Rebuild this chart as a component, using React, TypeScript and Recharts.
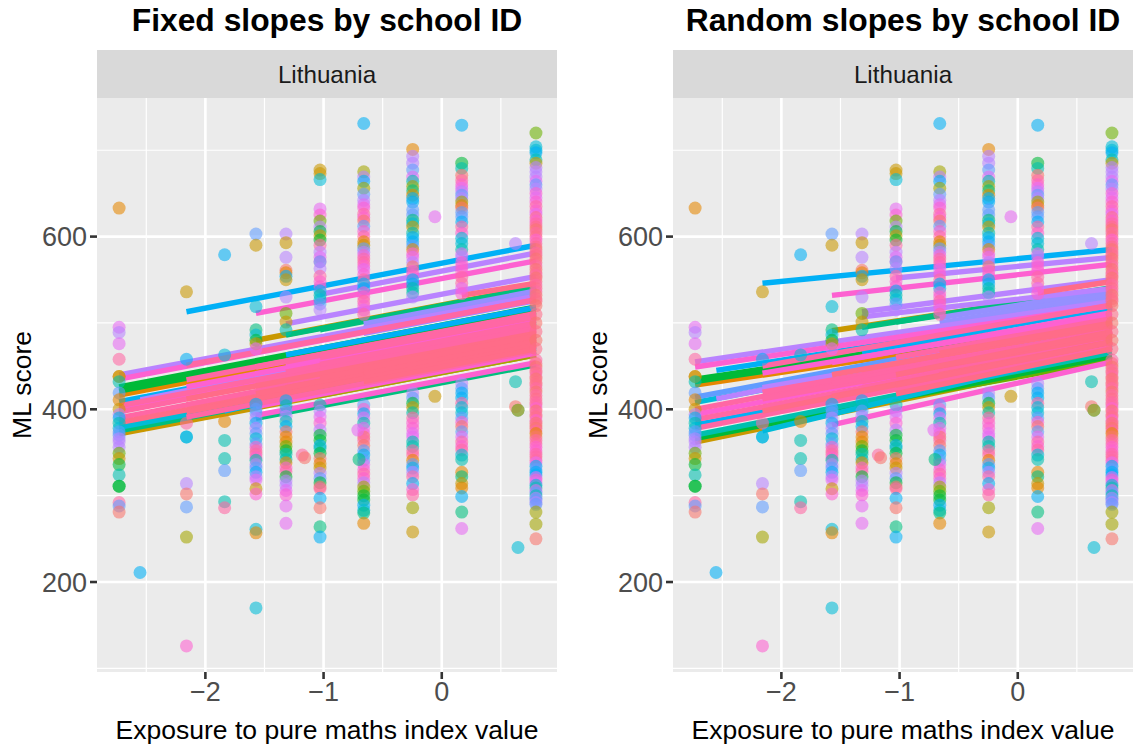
import React from "react";
import { ComposedChart, CartesianGrid, Line, Scatter, XAxis, YAxis, Label } from "recharts";

// ggplot hue palette, in school order
const PALETTE = ["#F8766D","#E58700","#C99800","#A3A500","#6BB100","#00BA38","#00BF7D","#00C0AF","#00BCD8","#00B0F6","#619CFF","#B983FF","#E76BF3","#FD61D1","#FF67A4","#FF6C88","#9590FF"];

const xMajor = [-2, -1, 0];
const xMinor = [-2.5, -1.5, -0.5, 0.5];
const yMajor = [200, 400, 600];
const yMinor = [100, 300, 500, 700];

// [score, school hue index] at each exposure value
const colA: [number, number][] = [[633,1],[495,12],[489,11],[476,12],[458,14],[438,1],[438,2],[432,7],[419,10],[411,1],[400,2],[394,11],[390,9],[384,7],[378,8],[374,10],[370,10],[366,11],[362,11],[356,11],[349,4],[343,2],[336,5],[324,7],[311,5],[311,5],[292,14],[288,10],[281,0]];
const colB: [number, number][] = [[211,9]];
const colC: [number, number][] = [[536,2],[458,9],[384,14],[368,9],[368,8],[314,11],[302,0],[287,10],[252,3],[126,13]];
const colD: [number, number][] = [[579,9],[463,8],[386,1],[364,7],[343,7],[329,10],[293,7],[286,14]];
const colE: [number, number][] = [[603,10],[590,2],[519,8],[492,6],[486,8],[480,5],[476,2],[470,12],[406,9],[400,10],[396,10],[390,11],[384,9],[378,11],[372,10],[366,8],[360,10],[356,13],[352,14],[348,14],[344,13],[341,7],[336,11],[332,10],[327,9],[322,11],[318,12],[308,2],[302,13],[261,8],[257,1],[170,8]];
const colF: [number, number][] = [[603,11],[593,2],[576,11],[561,0],[558,1],[554,9],[550,2],[530,11],[511,4],[501,2],[492,7],[410,9],[404,7],[398,10],[392,11],[386,7],[380,9],[374,0],[368,1],[362,1],[357,4],[352,5],[348,7],[342,7],[338,1],[332,13],[328,14],[322,5],[317,11],[312,11],[306,12],[301,13],[288,12],[268,12]];
const colG: [number, number][] = [[677,2],[673,2],[666,8],[632,12],[625,13],[618,4],[611,11],[606,5],[601,2],[596,5],[590,14],[582,11],[576,12],[571,13],[571,10],[563,11],[554,14],[548,13],[542,13],[537,9],[532,7],[527,8],[522,10],[515,11],[405,7],[398,11],[391,12],[384,13],[376,11],[370,5],[364,5],[358,9],[355,7],[349,5],[343,0],[337,1],[332,2],[326,11],[320,10],[315,5],[310,0],[308,14],[297,9],[286,0],[264,6],[252,9]];
const colH: [number, number][] = [[731,9],[675,3],[669,11],[664,9],[656,3],[649,10],[642,11],[637,12],[633,13],[626,14],[622,13],[618,0],[612,10],[606,13],[600,14],[594,1],[590,2],[586,10],[582,11],[578,13],[574,14],[570,14],[566,13],[562,12],[556,13],[550,14],[545,9],[540,9],[535,13],[530,13],[525,14],[520,13],[515,12],[510,14],[405,10],[400,13],[395,9],[390,12],[384,7],[378,12],[372,13],[368,0],[364,14],[358,0],[352,10],[347,9],[341,10],[336,12],[330,13],[325,14],[320,13],[315,11],[310,3],[305,4],[300,5],[295,5],[289,9],[283,8],[280,6],[268,1]];
const colI: [number, number][] = [[701,1],[693,11],[685,11],[677,10],[669,12],[664,7],[658,3],[653,6],[648,1],[644,9],[640,9],[631,10],[625,10],[619,6],[615,8],[611,2],[604,7],[599,9],[594,9],[589,10],[585,1],[580,13],[576,12],[570,11],[565,0],[560,13],[555,13],[550,9],[545,9],[540,7],[535,7],[530,11],[419,11],[413,10],[407,5],[402,2],[396,7],[390,14],[384,13],[378,13],[372,12],[368,12],[362,7],[357,7],[352,14],[347,14],[341,1],[336,10],[332,9],[327,11],[322,14],[314,9],[307,13],[301,14],[286,3],[258,2]];
const colJ: [number, number][] = [[623,12],[415,2]];
const colK: [number, number][] = [[729,9],[685,5],[679,7],[671,0],[665,14],[660,13],[656,12],[652,11],[648,10],[644,11],[640,3],[636,1],[633,0],[628,10],[623,10],[617,9],[611,14],[604,13],[598,8],[592,8],[585,7],[580,12],[576,11],[570,13],[565,13],[560,13],[553,14],[546,14],[540,12],[534,13],[430,11],[424,10],[419,9],[413,9],[407,14],[402,8],[396,8],[390,10],[385,13],[380,0],[374,10],[368,12],[362,14],[357,13],[353,14],[347,8],[342,7],[327,1],[322,6],[314,2],[309,1],[299,9],[281,6],[262,12]];
const colL: [number, number][] = [[592,11],[432,7],[403,0]];
const colM: [number, number][] = [[399,7],[399,2],[240,8]];
const colN: [number, number][] = [[720,4],[704,8],[700,8],[697,9],[689,7],[685,2],[680,11],[675,11],[669,11],[664,12],[660,10],[655,11],[650,13],[645,12],[640,13],[635,14],[630,13],[626,12],[622,15],[618,13],[615,14],[611,15],[608,0],[604,14],[600,15],[596,13],[592,14],[588,15],[585,0],[581,14],[578,15],[574,0],[570,15],[566,14],[562,0],[558,15],[555,14],[552,0],[548,15],[544,14],[540,15],[536,14],[532,0],[528,15],[525,15],[520,0],[510,15],[500,0],[490,15],[480,0],[470,15],[457,14],[453,15],[449,0],[445,14],[442,15],[438,14],[435,0],[431,15],[428,15],[424,14],[420,0],[416,14],[412,15],[408,14],[405,14],[401,13],[398,0],[394,14],[391,15],[387,13],[384,0],[381,15],[378,0],[375,14],[372,1],[368,0],[364,14],[360,14],[356,13],[352,13],[348,14],[345,14],[341,14],[338,12],[334,9],[330,10],[327,9],[324,9],[321,12],[318,13],[315,12],[312,8],[309,7],[306,12],[303,10],[300,7],[297,11],[295,10],[292,11],[290,10],[281,3],[267,3],[250,0]];

const exposure = [-2.73, -2.553, -2.16, -1.837, -1.572, -1.318, -1.03, -0.66, -0.246, -0.058, 0.169, 0.624, 0.645, 0.797];
const columns = [colA, colB, colC, colD, colE, colF, colG, colH, colI, colJ, colK, colL, colM, colN];
const strays: { x: number; y: number; h: number }[] = [
  { x: -1.18, y: 347, h: 14 }, { x: -1.16, y: 344, h: 0 }, { x: -0.71, y: 376, h: 12 }, { x: -0.7, y: 342, h: 6 },
];
const points = [
  ...columns.flatMap((col, i) => col.map(([y, h]) => ({ x: exposure[i], y, h }))),
  ...strays,
];

// [start exposure, score at start, score at 0.797, school hue index]
const fixedLines: [number, number, number, number][] = [
  [-2.73,371.5,463,2],[-1.572,480,541.5,2],[-2.73,416.5,508,1],[-1.03,416,463,3],[-1.572,389.5,451.5,6],
  [-2.73,421,513,5],[-2.73,426,518.5,5],[-2.73,375,467,6],[-1.318,486,541,6],[-1.03,492,540,6],[-2.73,379,471,8],[-2.16,396,473,8],
  [-2.73,409,501,9],[-1.318,463,518,9],[-2.16,513,590,9],[-1.84,398,485,9],
  [-0.66,499,537,16],[-0.66,494,532,16],[-0.66,488,526,16],
  [-2.73,439.7,531,11],[-1.318,499,554,11],[-1.03,533,581,11],[-2.55,411,503,11],[-2.16,418,495,11],
  [-2.73,435,527,13],[-1.572,511,572,13],[-2.16,426,503,13],[-1.572,449,510,13],[-1.572,393,454,13],[-1.572,403,465,13],[-1.318,450,506,13],[-2.73,400,492,13],
  [-2.16,451,527,14],[-2.73,397,489,14],[-2.73,404,496,14],[-2.16,434,511,14],[-2.16,391,468,14],[-2.16,405,482,14],[-1.572,430,491,14],[-1.572,424,485,14],[-1.318,437,492,14],[-1.318,443,498,14],[-1.318,455,510,14],[-1.03,447,494,14],[-1.03,452,500,14],[-1.03,460,507,14],[-2.73,390,482,14],
  [-2.73,384.5,476,15],[-2.16,397,474,15],[-2.16,412,488,15],[-1.572,412,474,15],[-1.572,418,480,15],[-1.318,425,480,15],[-1.03,436,484,15],[-0.66,432,470,15],[-0.66,438,476,15],[-0.66,442,480,15],[-0.66,447,485,15],[0.169,532,546,15],
];
const randomLines: [number, number, number, number][] = [
  [-2.73,362,461,2],[-1.572,491,540,2],[-2.73,428,500,1],[-1.572,399,457,4],[-2.73,432,505,5],[-2.73,435,508,5],[-2.73,366,462,5],
  [-1.318,495,541,6],[-1.03,501,538,6],[-2.73,370,466,7],[-2.73,408,498,8],[-2.16,375,472,8],
  [-2.73,382,475,9],[-2.55,445,517,9],[-1.318,466,518,9],[-1.03,475,520,9],[-2.16,546,585,9],[-2.73,414,505,10],
  [-0.66,506,538,16],[-0.66,500,533,16],[-0.66,494,528,16],
  [-2.73,455,525,11],[-2.55,412,503,11],[-1.03,552,576,11],[-1.318,513,550,11],[-1.318,507,540,11],[-1.03,450,496,11],[-2.16,425,495,11],
  [-2.73,449,520,13],[-1.572,532,568,13],[-1.572,382,455,13],[-1.572,454,512,13],[-2.16,442,508,13],[-2.73,394,485,13],[-1.03,425,480,13],[-1.318,440,500,13],
  [-2.16,450,521,14],[-2.73,388,479,14],[-2.73,400,492,14],[-2.16,420,490,14],[-2.16,412,484,14],[-1.572,430,491,14],[-1.318,445,502,14],[-2.73,378,472,14],[-1.318,425,482,14],[-1.318,432,490,14],[-1.03,460,505,14],
  [0.169,535,548,15],[-0.66,450,485,15],[-1.03,440,490,15],[-1.572,415,478,15],[-1.572,440,497,15],[-2.16,398,478,15],[-0.66,465,500,15],[-1.03,418,470,15],[-0.66,440,478,15],[-1.03,428,478,15],
];

const FONT = "'Liberation Sans', Arial, sans-serif";
const fmt = (v: number) => String(v).replace("-", "\u2212");
const Dot = (p: any) => <circle cx={p.cx} cy={p.cy} r={6.5} fill={PALETTE[p.payload.h]} fillOpacity={0.58} />;

function Panel({ left, title, lines }: { left: number; title: string; lines: [number, number, number, number][] }) {
  const tick = { fontSize: 27, fill: "#4D4D4D", fontFamily: FONT };
  const axisLabel = { fontSize: 26.5, fill: "#000", fontFamily: FONT };
  return (
    <div style={{ position: "absolute", left, top: 0, width: 561, height: 752 }}>
      <div style={{ position: "absolute", left: 97, width: 460, top: 2, textAlign: "center", font: `bold 31.8px ${FONT}`, color: "#000", whiteSpace: "nowrap", lineHeight: "36px" }}>{title}</div>
      <div style={{ position: "absolute", left: 97, top: 50, width: 460, height: 48, background: "#D9D9D9", textAlign: "center", font: `24.2px ${FONT}`, color: "#1A1A1A", lineHeight: "50px" }}>Lithuania</div>
      <ComposedChart width={561} height={752} margin={{ left: 37, top: 98, right: 4, bottom: 40 }} style={{ position: "absolute", left: 0, top: 0 }}>
        <CartesianGrid fill="#EBEBEB" stroke="#FFFFFF" strokeWidth={1.2} horizontalValues={yMinor} verticalValues={xMinor} />
        <CartesianGrid stroke="#FFFFFF" strokeWidth={2.6} fill="none" horizontalValues={yMajor} verticalValues={xMajor} />
        <XAxis dataKey="x" type="number" domain={[-2.917, 0.975]} ticks={xMajor} tickFormatter={fmt} allowDataOverflow axisLine={false} tickLine={{ stroke: "#333333", strokeWidth: 2.6 }} tickSize={7} tickMargin={3} height={40} tick={tick}>
          <Label value="Exposure to pure maths index value" position="insideBottom" offset={-27} style={axisLabel} />
        </XAxis>
        <YAxis dataKey="y" type="number" domain={[95.8, 760.5]} ticks={yMajor} allowDataOverflow axisLine={false} tickLine={{ stroke: "#333333", strokeWidth: 2.6 }} tickSize={7} tickMargin={3} width={60} tick={tick}>
          <Label value="ML score" angle={-90} position="insideLeft" offset={-15} style={{ ...axisLabel, textAnchor: "middle" }} />
        </YAxis>
        <Scatter data={points} dataKey="y" shape={Dot} isAnimationActive={false} />
        {lines.map(([x0, y0, y1, h], i) => (
          <Line key={i} data={[{ x: x0, y: y0 }, { x: 0.797, y: y1 }]} dataKey="y" dot={false} activeDot={false} stroke={PALETTE[h]} strokeWidth={5.4} strokeLinecap="butt" isAnimationActive={false} legendType="none" />
        ))}
      </ComposedChart>
    </div>
  );
}

export default function App() {
  return (
    <div style={{ position: "absolute", left: 0, top: 0, width: 1137, height: 752, background: "#FFF", overflow: "hidden" }}>
      <Panel left={0} title="Fixed slopes by school ID" lines={fixedLines} />
      <Panel left={576} title="Random slopes by school ID" lines={randomLines} />
    </div>
  );
}
